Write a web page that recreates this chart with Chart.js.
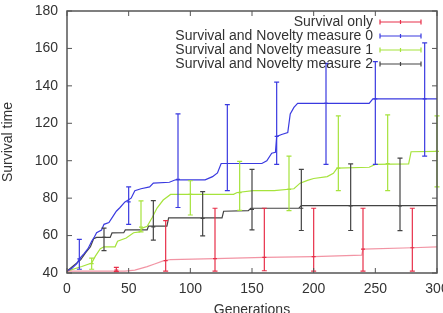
<!DOCTYPE html>
<html>
<head>
<meta charset="utf-8">
<script src="https://cdn.jsdelivr.net/npm/chart.js@4.4.1/dist/chart.umd.min.js"></script>
<style>
  html, body { margin: 0; padding: 0; background: #fff; overflow: hidden; }
  #frame { width: 443px; height: 313px; overflow: hidden; position: relative; }
  #holder { width: 443px; height: 330px; position: absolute; left: 0; top: 0; }
</style>
</head>
<body>
<div id="frame"><div id="holder"><canvas id="survivalChart"></canvas></div></div>
<script>
// Series labels
const seriesLabels = [
    'Survival only',
    'Survival and Novelty measure 0',
    'Survival and Novelty measure 1',
    'Survival and Novelty measure 2'
];

// Tick labels
const xTicks = [0, 50, 100, 150, 200, 250, 300];
const yTicks = [40, 60, 80, 100, 120, 140, 160, 180];

// Survival only - line
const redX = [0, 47, 55, 65, 71, 78, 84, 120, 160, 200, 239, 240, 280, 300];
const redY = [41, 41, 41.5, 43.4, 44.8, 46.5, 47.2, 47.7, 48.4, 48.7, 49.5, 52.8, 53.5, 54];
// Survival only - error bars
const redBarX = [40, 80, 120, 160, 200, 240, 280];
const redBarY = [41.5, 46.6, 47.7, 48.4, 48.7, 52.8, 53.5];
const redBarLow = [40.7, 41, 41, 41.2, 41, 41, 41];
const redBarHigh = [43, 68, 74.6, 74.6, 74.6, 74.6, 74.6];

// Measure 0 - line
const blueX = [0, 4, 8, 10, 14, 17, 20, 22, 24, 28, 30, 34, 37, 40, 43, 47, 52, 55, 60, 67, 70, 83, 88,
    112, 118, 122, 125, 158, 162, 166, 169, 170, 174, 179, 181, 184, 187, 245, 248, 300];
const blueY = [41, 42.5, 45, 47.5, 50.5, 53, 57, 59, 61.5, 63, 66, 67, 70, 73, 75, 78, 80, 84, 85, 86, 88, 88.5, 89.8,
    89.8, 91.5, 93.5, 98.5, 98.5, 100, 104, 104.5, 113, 114, 115, 125, 128.5, 130.6, 130.6, 133, 133];
// Measure 0 - error bars
const blueBarX = [10, 50, 90, 130, 170, 210, 250, 290];
const blueBarY = [47.5, 78, 90, 98.5, 113, 130.6, 133, 133];
const blueBarLow = [42, 66, 75, 84, 98, 98, 98, 102.5];
const blueBarHigh = [58, 86, 125, 130, 142, 152, 153, 163];

// Measure 1 - line
const greenX = [0, 12, 20, 23, 27, 30, 39, 41, 48, 54, 59, 61, 65, 69, 73, 78, 84, 135, 138, 151, 168, 184,
    189, 195, 200, 211, 216, 219, 245, 250, 277, 279, 300];
const greenY = [41, 43.5, 45.3, 49, 53, 54, 54, 57, 58.7, 61.5, 62, 64, 65, 69.5, 74.7, 79, 82, 82, 83, 84, 84, 85,
    88, 89.5, 90.5, 91.5, 93.3, 96, 96.5, 98, 98.3, 104.8, 105];
// Measure 1 - error bars
const greenBarX = [20, 60, 100, 140, 180, 220, 260, 300];
const greenBarY = [45, 64.5, 82, 83, 84.7, 96, 98.5, 105];
const greenBarLow = [42, 62, 71, 73.5, 73.3, 84, 84, 86];
const greenBarHigh = [48, 78.5, 89.3, 99.6, 102.5, 124, 124.5, 124];

// Measure 2 - line
const blackX = [0, 11, 15, 19, 21.6, 24, 35, 36.5, 46, 47.3, 65, 66, 81, 82.4, 125.7, 127, 147, 149, 188, 190, 300];
const blackY = [41, 47, 50.7, 54, 58.3, 59, 59, 61.4, 61.5, 63, 63, 65, 65, 69.5, 69.5, 73, 73.3, 74.6, 74.6, 76, 76];
// Measure 2 - error bars
const blackBarX = [30, 70, 110, 150, 190, 230, 270];
const blackBarY = [59, 64.6, 69.2, 74, 74.6, 75.8, 75.8];
const blackBarLow = [52, 57.6, 59.8, 63, 62.7, 62.7, 62.6];
const blackBarHigh = [64, 78.7, 83.5, 95.4, 95.4, 98.3, 101.4];

// line colours and error bar colours
const lineColors = ['rgba(232, 60, 90, 0.55)', '#3a3ae0', '#a6e33c', '#444444'];
const barColors = ['#e8304a', '#3a3ae0', '#a6e33c', '#444444'];
const fontFamily = '"Liberation Sans", Arial, Helvetica, sans-serif';
const textColor = '#333';

function toPoints(xs, ys) {
    return xs.map((x, i) => ({ x: x, y: ys[i] }));
}

const errorSets = [
    { x: redBarX, y: redBarY, low: redBarLow, high: redBarHigh },
    { x: blueBarX, y: blueBarY, low: blueBarLow, high: blueBarHigh },
    { x: greenBarX, y: greenBarY, low: greenBarLow, high: greenBarHigh },
    { x: blackBarX, y: blackBarY, low: blackBarLow, high: blackBarHigh }
];

// Error bars drawn through the chart scales
const errorBarPlugin = {
    id: 'errorBars',
    afterDatasetsDraw(chart) {
        const ctx = chart.ctx;
        const xs = chart.scales.x;
        const ys = chart.scales.y;
        chart.data.datasets.forEach((ds, i) => {
            const set = errorSets[i];
            ctx.save();
            ctx.strokeStyle = barColors[i];
            ctx.lineWidth = 1.2;
            set.x.forEach((xv, k) => {
                const px = xs.getPixelForValue(xv);
                const pLow = ys.getPixelForValue(set.low[k]);
                const pHigh = ys.getPixelForValue(set.high[k]);
                const pMid = ys.getPixelForValue(set.y[k]);
                ctx.beginPath();
                ctx.moveTo(px, pLow);
                ctx.lineTo(px, pHigh);
                ctx.moveTo(px - 2.5, pLow);
                ctx.lineTo(px + 2.5, pLow);
                ctx.moveTo(px - 2.5, pHigh);
                ctx.lineTo(px + 2.5, pHigh);
                ctx.moveTo(px - 2, pMid);
                ctx.lineTo(px + 2, pMid);
                ctx.stroke();
            });
            ctx.restore();
        });
    }
};

// Gnuplot style border with inward ticks on all sides, plus the key
const framePlugin = {
    id: 'frame',
    afterDraw(chart) {
        const ctx = chart.ctx;
        const a = chart.chartArea;
        const xs = chart.scales.x;
        const ys = chart.scales.y;
        ctx.save();
        ctx.strokeStyle = '#555';
        ctx.lineWidth = 1.5;
        ctx.strokeRect(a.left, a.top, a.right - a.left, a.bottom - a.top);
        ctx.lineWidth = 1;
        ctx.beginPath();
        xTicks.forEach(v => {
            const px = xs.getPixelForValue(v);
            ctx.moveTo(px, a.bottom);
            ctx.lineTo(px, a.bottom - 5);
            ctx.moveTo(px, a.top);
            ctx.lineTo(px, a.top + 5);
        });
        yTicks.forEach(v => {
            const py = ys.getPixelForValue(v);
            ctx.moveTo(a.left, py);
            ctx.lineTo(a.left + 5, py);
            ctx.moveTo(a.right, py);
            ctx.lineTo(a.right - 5, py);
        });
        ctx.stroke();

        // key
        ctx.font = '14px ' + fontFamily;
        ctx.textAlign = 'right';
        ctx.textBaseline = 'middle';
        chart.data.datasets.forEach((ds, i) => {
            const y = 22 + 14 * i;
            ctx.fillStyle = textColor;
            ctx.fillText(ds.label, 373, y);
            ctx.strokeStyle = barColors[i];
            ctx.lineWidth = 1.2;
            ctx.beginPath();
            ctx.moveTo(380, y);
            ctx.lineTo(421, y);
            ctx.moveTo(380, y - 2.5);
            ctx.lineTo(380, y + 2.5);
            ctx.moveTo(421, y - 2.5);
            ctx.lineTo(421, y + 2.5);
            ctx.moveTo(400.5, y - 2);
            ctx.lineTo(400.5, y + 2);
            ctx.stroke();
        });
        ctx.restore();
    }
};

function makeDataset(label, xs, ys, color) {
    return {
        label: label,
        data: toPoints(xs, ys),
        borderColor: color,
        backgroundColor: color,
        borderWidth: 1.2,
        pointRadius: 0,
        tension: 0,
        fill: false
    };
}

const ctx = document.getElementById('survivalChart');

new Chart(ctx, {
    type: 'line',
    data: {
        datasets: [
            makeDataset(seriesLabels[0], redX, redY, lineColors[0]),
            makeDataset(seriesLabels[1], blueX, blueY, lineColors[1]),
            makeDataset(seriesLabels[2], greenX, greenY, lineColors[2]),
            makeDataset(seriesLabels[3], blackX, blackY, lineColors[3])
        ]
    },
    options: {
        responsive: true,
        maintainAspectRatio: false,
        animation: false,
        layout: { padding: { top: 11, right: 6, left: 0, bottom: 0 } },
        plugins: {
            legend: { display: false },
            tooltip: { enabled: false }
        },
        scales: {
            x: {
                type: 'linear',
                min: 0,
                max: 300,
                afterBuildTicks: s => { s.ticks = xTicks.map(v => ({ value: v })); },
                afterFit: s => { s.height = 57; s.paddingLeft = 0; s.paddingRight = 0; },
                grid: { display: false, drawTicks: false },
                border: { display: false },
                ticks: {
                    color: textColor,
                    font: { family: fontFamily, size: 14 },
                    padding: 8,
                    maxRotation: 0,
                    autoSkip: false
                },
                title: {
                    display: true,
                    text: 'Generations',
                    color: textColor,
                    font: { family: fontFamily, size: 14 },
                    padding: { top: 0, bottom: 11 }
                }
            },
            y: {
                type: 'linear',
                min: 40,
                max: 180,
                afterBuildTicks: s => { s.ticks = yTicks.map(v => ({ value: v })); },
                afterFit: s => { s.width = 67; s.paddingTop = 0; s.paddingBottom = 0; },
                grid: { display: false, drawTicks: false },
                border: { display: false },
                ticks: {
                    color: textColor,
                    font: { family: fontFamily, size: 14 },
                    padding: 9,
                    autoSkip: false
                },
                title: {
                    display: true,
                    text: 'Survival time',
                    color: textColor,
                    font: { family: fontFamily, size: 14 },
                    padding: { top: 0, bottom: 0 }
                }
            }
        }
    },
    plugins: [errorBarPlugin, framePlugin]
});
</script>
</body>
</html>
